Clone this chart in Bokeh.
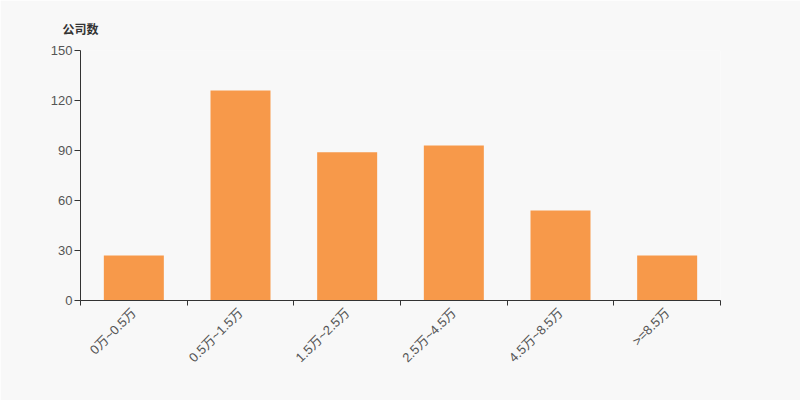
import math
from bokeh.plotting import figure
from bokeh.models import FixedTicker, ColumnDataSource, Range1d
from bokeh.embed import file_html
from bokeh.resources import INLINE

categories = ["0万~0.5万", "0.5万~1.5万", "1.5万~2.5万", "2.5万~4.5万", "4.5万~8.5万", ">=8.5万"]
counts = [27, 126, 89, 93, 54, 27]
y_ticks = [0, 30, 60, 90, 120, 150]

BG = "#f8f8f8"
FONT = "Liberation Sans, Noto Sans CJK SC"

xs = [i + 0.5 for i in range(len(categories))]
src = ColumnDataSource(dict(x=xs, top=counts))

p = figure(width=800, height=400, output_backend="svg", toolbar_location=None,
           x_range=Range1d(0, len(categories)), y_range=Range1d(0, 150),
           min_border_left=80, min_border_right=80, min_border_top=50, min_border_bottom=100)
p.background_fill_color = BG
p.border_fill_color = BG
p.outline_line_color = None
p.grid.visible = False

p.title.text = "公司数"
p.title.align = "left"
p.title.offset = -18
p.title.standoff = 28
p.title.text_font = "Noto Sans CJK SC"
p.title.text_font_size = "12px"
p.title.text_font_style = "bold"
p.title.text_color = "#333333"

p.vbar(x="x", top="top", width=0.5625, source=src, color="#f7994a", line_color=None)

# x axis
p.xaxis.ticker = FixedTicker(ticks=xs, minor_ticks=list(range(len(categories) + 1)))
p.xaxis.major_label_overrides = {x: c for x, c in zip(xs, categories)}
p.xaxis.major_tick_out = 0
p.xaxis.major_tick_in = 0
p.xaxis.minor_tick_out = 5
p.xaxis.minor_tick_in = 0
p.xaxis.major_label_orientation = math.pi / 4
p.xaxis.major_label_standoff = 5

# y axis
p.yaxis.ticker = FixedTicker(ticks=y_ticks, minor_ticks=[])
p.yaxis.major_tick_out = 6
p.yaxis.major_tick_in = 0
p.yaxis.minor_tick_out = 0
p.yaxis.major_label_standoff = 2

for ax in (p.xaxis, p.yaxis):
    ax.axis_line_color = "#333333"
    ax.major_tick_line_color = "#333333"
    ax.minor_tick_line_color = "#333333"
    ax.major_label_text_font = FONT
    ax.major_label_text_font_size = "13px"
    ax.major_label_text_color = "#555555"

html = file_html(p, INLINE)
open("out.html", "w").write(html)
